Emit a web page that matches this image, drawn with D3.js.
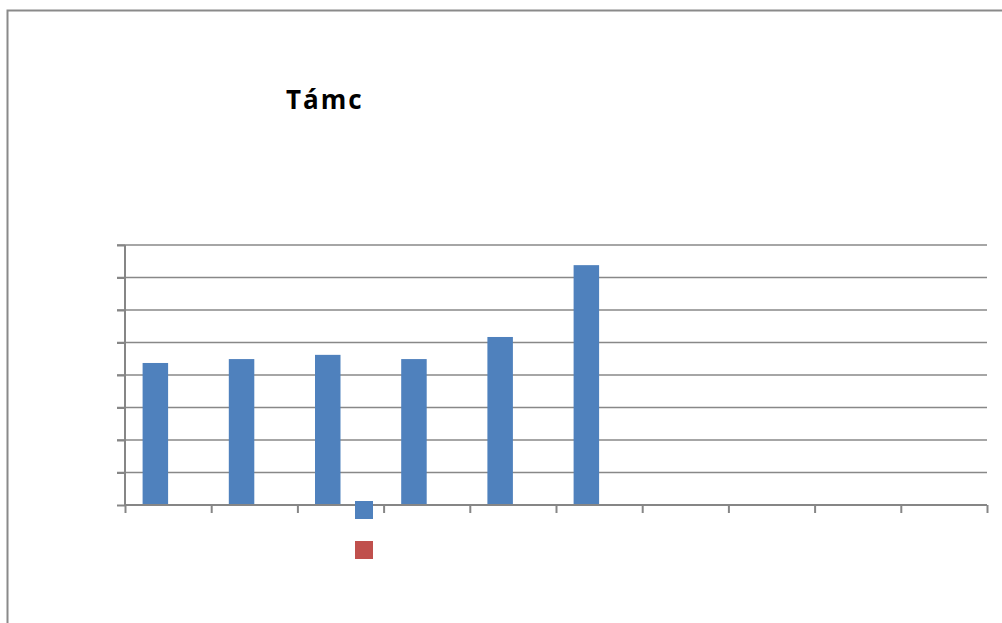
<!DOCTYPE html>
<html>
<head>
<meta charset="utf-8">
<script src="https://cdn.jsdelivr.net/npm/d3@7"></script>
<style>
html,body{margin:0;padding:0;background:#fff;overflow:hidden;}
svg{display:block;}
</style>
</head>
<body>
<svg id="chart" width="1002" height="623"></svg>
<script>
// Data
const categories = ["1","2","3","4","5","6","7","8","9","10"];
const series1 = [4.37, 4.49, 4.62, 4.49, 5.17, 7.38, null, null, null, null];
const series2 = [0, 0, 0, 0, 0, 0, null, null, null, null];
const seriesNames = ["", ""];
const seriesColors = ["#4F81BD", "#C0504D"];
const yTicks = [0,1,2,3,4,5,6,7,8];
const title = "Támc";

(function(){
const svg = d3.select("#chart");

// outer border
svg.append("rect")
  .attr("x", 7.5).attr("y", 10.5)
  .attr("width", 1100).attr("height", 700)
  .attr("fill", "#fff")
  .attr("stroke", "#8a8a8a").attr("stroke-width", 2);

const pLeft = 125, pRight = 987, pTop = 245, pBottom = 505;

const x = d3.scaleBand().domain(categories).range([pLeft, pRight]).paddingInner(0).paddingOuter(0);
const xIdx = d3.scaleLinear().domain([0, categories.length]).range([pLeft, pRight]);
const y = d3.scaleLinear().domain([0, 8]).range([pBottom, pTop]);

// gridlines
svg.append("g").selectAll("line").data(yTicks.filter(d => d > 0)).join("line")
  .attr("x1", pLeft - 8).attr("x2", pRight)
  .attr("y1", d => y(d)).attr("y2", d => y(d))
  .attr("stroke", "#888888").attr("stroke-width", 1.5);

// bars
const groupW = x.bandwidth();
const barW = groupW * 25.5 / 86.2;
const gap = (groupW - 2 * barW) / 2;
[series1, series2].forEach((s, si) => {
  svg.append("g").selectAll("rect")
    .data(categories.map((c, i) => ({c, v: s[i]})).filter(d => d.v != null && d.v > 0))
    .join("rect")
    .attr("x", d => x(d.c) + gap + si * barW)
    .attr("width", barW)
    .attr("y", d => y(d.v))
    .attr("height", d => y(0) - y(d.v))
    .attr("fill", seriesColors[si]);
});

// y axis
const yAxis = d3.axisLeft(y).tickValues(yTicks).tickSize(8).tickFormat("");
const gy = svg.append("g").attr("transform", `translate(${pLeft},0)`).call(yAxis);
gy.selectAll("path,line").attr("stroke", "#868686").attr("stroke-width", 2);
gy.select(".domain").attr("d", `M0,${pTop}V${pBottom}`);

// x axis
const xAxis = d3.axisBottom(xIdx).tickValues(d3.range(categories.length + 1)).tickSize(8).tickFormat("");
const gx = svg.append("g").attr("transform", `translate(0,${pBottom})`).call(xAxis);
gx.selectAll("path,line").attr("stroke", "#868686").attr("stroke-width", 2);
gx.select(".domain").attr("d", `M${pLeft},0H${pRight}`);

// title
svg.append("text")
  .attr("x", 286).attr("y", 109)
  .attr("font-family", "'Open Sans', 'Liberation Sans', sans-serif")
  .attr("font-weight", "bold")
  .attr("font-size", 26)
  .attr("letter-spacing", "2px")
  .attr("fill", "#000")
  .text(title);

// legend
const leg = svg.append("g").attr("transform", "translate(355,501)");
seriesNames.forEach((n, i) => {
  const g = leg.append("g").attr("transform", `translate(0,${i * 40})`);
  g.append("rect").attr("width", 18).attr("height", 18).attr("fill", seriesColors[i]);
  g.append("text").attr("x", 24).attr("y", 14).attr("font-size", 14)
    .attr("font-family", "'Open Sans', sans-serif").text(n);
});
})();
</script>
</body>
</html>
